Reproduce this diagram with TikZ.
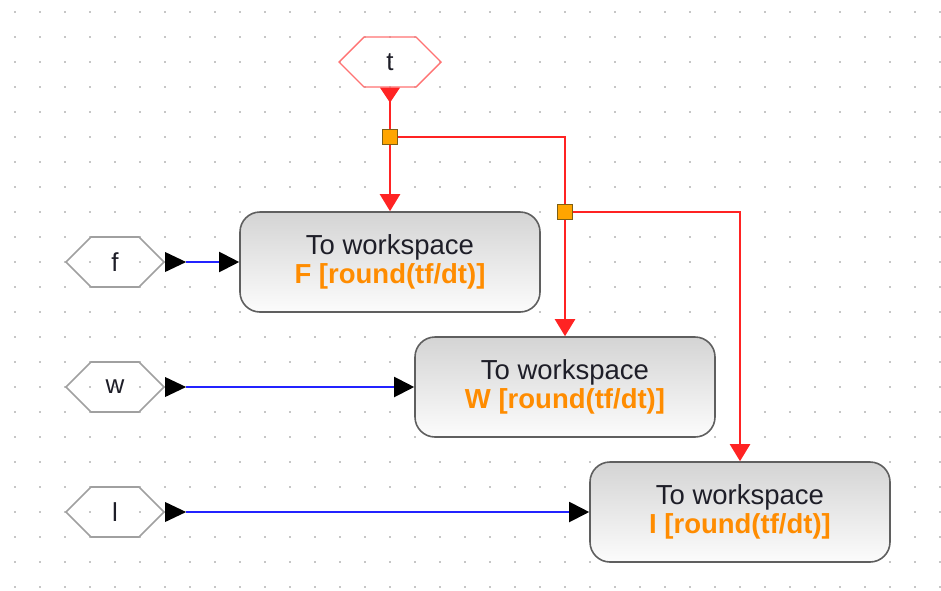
\documentclass[tikz,border=0pt]{standalone}
\usepackage{fontspec}
\setmainfont{Liberation Sans}
\usetikzlibrary{shapes.symbols,arrows.meta,shadings}

\definecolor{dotc}{RGB}{198,198,198}
\definecolor{hexgray}{RGB}{160,160,160}
\definecolor{hexred}{RGB}{255,115,115}
\definecolor{sigred}{RGB}{255,35,35}
\definecolor{sigblue}{RGB}{35,35,255}
\definecolor{blkborder}{RGB}{95,95,95}
\definecolor{blktop}{RGB}{212,212,212}
\definecolor{blkbot}{RGB}{252,252,252}
\definecolor{orng}{RGB}{255,140,0}
\definecolor{juncfill}{RGB}{255,165,0}
\definecolor{juncdraw}{RGB}{125,95,20}
\definecolor{txt}{RGB}{30,30,40}

\tikzset{
  hexa/.style={shape=signal, signal to=west and east, signal pointer angle=90,
    minimum width=98pt, minimum height=50pt, inner sep=0pt,
    draw=hexgray, line width=1.6pt, text=txt,
    font=\fontsize{26}{30}\selectfont},
  hexared/.style={hexa, minimum width=102pt, draw=hexred, line width=1.4pt},
  blk/.style={rectangle, rounded corners=20pt, minimum width=300pt,
    minimum height=100pt, draw=blkborder, line width=1.6pt,
    top color=blktop, bottom color=blkbot, align=center, text=txt,
    font=\fontsize{27.5}{29}\selectfont},
  junc/.style={rectangle, minimum size=15pt, inner sep=0pt,
    fill=juncfill, draw=juncdraw, line width=1.2pt},
  redline/.style={draw=sigred, line width=2.2pt},
  blueline/.style={draw=sigblue, line width=2pt},
  redtip/.style={-{Triangle[length=17pt,width=20pt,sigred]}},
  blacktip/.style={-{Triangle[length=20pt,width=20pt,black]}},
}

\newcommand{\outport}[2]{\fill[#2] (#1) -- ++(0,-10) -- ++(21,10) -- ++(-21,10) -- cycle;}

\begin{document}
\begin{tikzpicture}[x=1pt,y=-1pt]
\useasboundingbox (0,0) rectangle (941,590);
\fill[white] (0,0) rectangle (941,590);

% dotted grid
\foreach \i in {0,...,37}
  \foreach \j in {0,...,23}
    \fill[dotc] (15+25*\i-1.3, 12+25*\j-1.3) rectangle ++(2.6,2.6);

% sources
\node[hexared] (t) at (390,62) {t};
\node[hexa] (f) at (115,262) {f};
\node[hexa] (w) at (115,387) {w};
\node[hexa] (l) at (115,512) {l};

% workspace sinks
\node[blk] (F) at (390,262) {To workspace\\{\color{orng}\bfseries F [round(tf/dt)]}};
\node[blk] (W) at (565,387) {To workspace\\{\color{orng}\bfseries W [round(tf/dt)]}};
\node[blk] (I) at (740,512) {To workspace\\{\color{orng}\bfseries I [round(tf/dt)]}};

% branch points of the time signal
\coordinate (J1) at (390,137);
\coordinate (J2) at (565,212);

% time signal
\fill[sigred] (t.south) ++(-10,0) -- ++(20,0) -- ++(-10,15) -- cycle;
\draw[redline] (t.south) -- (J1);
\draw[redline,redtip] (J1) -- (F.north);
\draw[redline] (J1) -| (J2);
\draw[redline,redtip] (J2) -- (W.north);
\draw[redline,redtip] (J2) -| (I.north);
\node[junc] at (J1) {};
\node[junc] at (J2) {};

% data signals
\coordinate (fo) at ([xshift=21pt]f.east);
\coordinate (wo) at ([xshift=21pt]w.east);
\coordinate (lo) at ([xshift=21pt]l.east);
\outport{f.east}{black}
\outport{w.east}{black}
\outport{l.east}{black}
\draw[blueline,blacktip] (fo) -- (F.west);
\draw[blueline,blacktip] (wo) -- (W.west);
\draw[blueline,blacktip] (lo) -- (I.west);
\end{tikzpicture}
\end{document}
